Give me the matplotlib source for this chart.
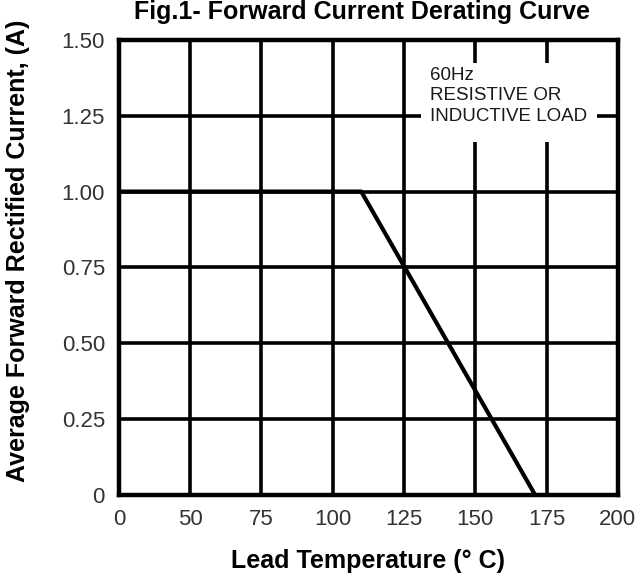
import matplotlib
matplotlib.use("Agg")
import matplotlib.pyplot as plt
from matplotlib.patches import Rectangle

# Derating curve data
temp = [25, 110, 171]
current = [1.0, 1.0, 0.0]

# Axis ticks
x_ticks = [25, 50, 75, 100, 125, 150, 175, 200]
x_labels = ["0", "50", "75", "100", "125", "150", "175", "200"]
y_ticks = [0, 0.25, 0.5, 0.75, 1.0, 1.25, 1.5]
y_labels = ["0", "0.25", "0.50", "0.75", "1.00", "1.25", "1.50"]

note = "60Hz\nRESISTIVE OR\nINDUCTIVE LOAD"

plt.rcParams['font.family'] = ['Liberation Sans', 'DejaVu Sans']

fig = plt.figure(figsize=(6.39, 5.77), dpi=100)
ax = fig.add_axes([0.186, 0.142, 0.781, 0.789])

ax.plot(temp, current, color="black", linewidth=3.0, zorder=3, solid_capstyle="butt")

ax.set_xlim(25, 200)
ax.set_ylim(0, 1.5)
ax.set_xticks(x_ticks)
ax.set_xticklabels(x_labels)
ax.set_yticks(y_ticks)
ax.set_yticklabels(y_labels)
ax.tick_params(axis="both", length=0, labelsize=16, labelcolor="#333333")
ax.tick_params(axis="x", pad=10)
ax.tick_params(axis="y", pad=10)

ax.set_axisbelow(True)
ax.grid(True, color="black", linewidth=2.6)
for s in ax.spines.values():
    s.set_linewidth(3.2)

# white box behind the note
ax.add_patch(Rectangle((130.8, 1.164), 61.8, 0.26, facecolor="white",
                       edgecolor="none", zorder=1))
ax.text(134.0, 1.41, note, fontsize=13.5, color="#1a1a1a", va="top",
        ha="left", linespacing=1.25, zorder=4)

ax.set_xlabel("Lead Temperature (° C)", fontsize=18, fontweight="bold")
ax.set_ylabel("Average Forward Rectified Current, (A)", fontsize=18, fontweight="bold")
ax.xaxis.set_label_coords(0.5, -0.118)
ax.yaxis.set_label_coords(-0.178, 0.536)

fig.text(0.567, 1 - 19 / 577, "Fig.1- Forward Current Derating Curve",
         fontsize=18, fontweight="bold", ha="center", va="baseline")

fig.savefig("out.png", dpi=100)
